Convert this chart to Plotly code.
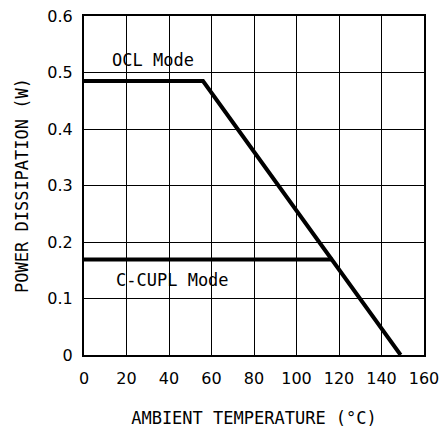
import plotly.graph_objects as go

# Derating curves: ambient temperature (°C) vs. power dissipation (W)
ocl_temp = [0, 56, 149]
ocl_power = [0.485, 0.485, 0.0]

ccupl_temp = [0, 117]
ccupl_power = [0.169, 0.169]

x_ticks = [0, 20, 40, 60, 80, 100, 120, 140, 160]
y_ticks = [0, 0.1, 0.2, 0.3, 0.4, 0.5, 0.6]
y_tick_text = ["0", "0.1", "0.2", "0.3", "0.4", "0.5", "0.6"]

MONO = "DejaVu Sans Mono"
SANS = "DejaVu Sans"

fig = go.Figure()
fig.add_trace(go.Scatter(x=ocl_temp, y=ocl_power, mode="lines",
                         line=dict(color="black", width=4), showlegend=False))
fig.add_trace(go.Scatter(x=ccupl_temp, y=ccupl_power, mode="lines",
                         line=dict(color="black", width=4), showlegend=False))

fig.add_annotation(x=32.6, y=0.523, text="OCL Mode", showarrow=False,
                   font=dict(family=MONO, size=17, color="black"))
fig.add_annotation(x=41.7, y=0.132, text="C-CUPL Mode", showarrow=False,
                   font=dict(family=MONO, size=17, color="black"))

fig.update_layout(
    width=439, height=429,
    margin=dict(l=84, r=15, t=16, b=74),
    paper_bgcolor="white", plot_bgcolor="white",
    font=dict(family=SANS, size=16, color="black"),
    xaxis=dict(range=[0, 160], tickvals=x_ticks, showgrid=True,
               gridcolor="black", gridwidth=1, zeroline=False,
               showline=True, linecolor="black", linewidth=2, mirror=True,
               ticks="outside", ticklen=8, tickcolor="white",
               ticklabeloverflow="allow", automargin=False,
               title=dict(text="AMBIENT TEMPERATURE (°C)", standoff=25,
                          font=dict(family=MONO, size=17))),
    yaxis=dict(range=[0, 0.6], tickvals=y_ticks, ticktext=y_tick_text,
               showgrid=True, gridcolor="black", gridwidth=1, zeroline=False,
               showline=True, linecolor="black", linewidth=2, mirror=True,
               ticks="outside", ticklen=6, tickcolor="white",
               automargin=False,
               title=dict(text="POWER DISSIPATION (W)", standoff=14,
                          font=dict(family=MONO, size=17))),
)

fig.write_html("out.html")
